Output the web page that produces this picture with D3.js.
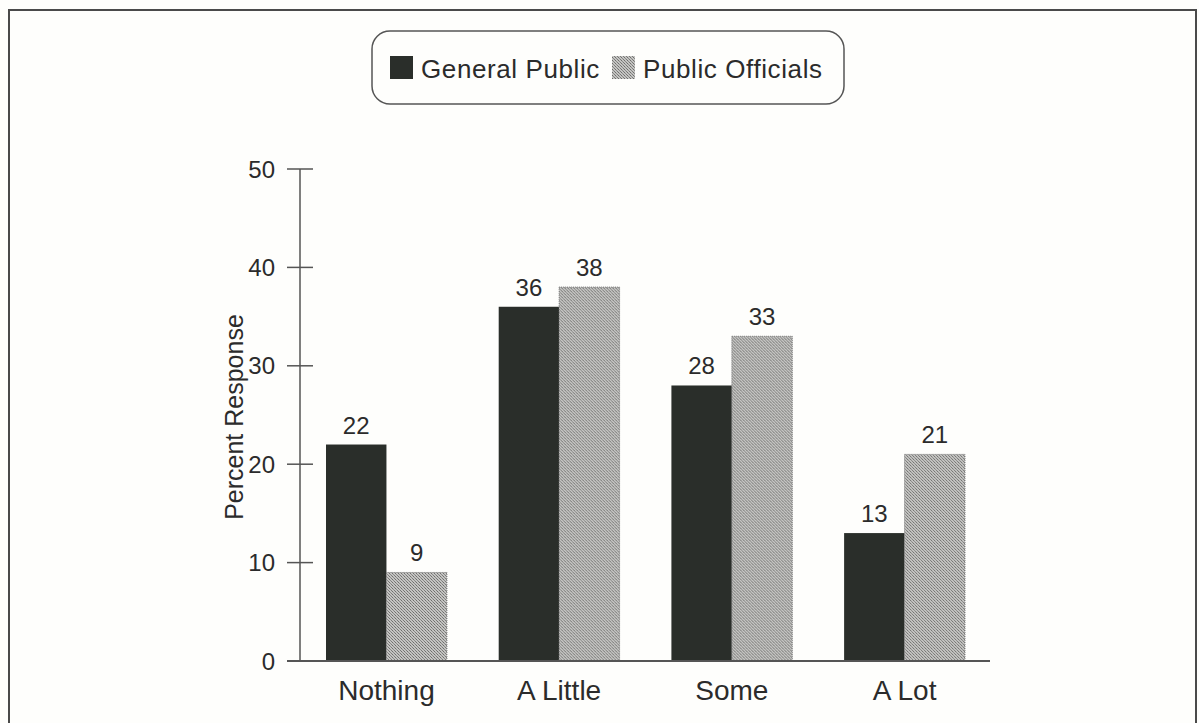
<!DOCTYPE html>
<html>
<head>
<meta charset="utf-8">
<script src="https://cdn.jsdelivr.net/npm/d3@7/dist/d3.min.js"></script>
<style>
  html, body { margin: 0; padding: 0; background: #fefefc; }
  svg { display: block; }
  text { font-family: "Liberation Sans", Arial, Helvetica, sans-serif; fill: #2b2b2b; }
</style>
</head>
<body>
<svg id="chart" width="1199" height="723"></svg>
<script>
// Survey responses, percent of each group
const categories = ["Nothing", "A Little", "Some", "A Lot"];
const seriesNames = ["General Public", "Public Officials"];
const generalPublic = [22, 36, 28, 13];
const publicOfficials = [9, 38, 33, 21];
const yTicks = [0, 10, 20, 30, 40, 50];
const yTitle = "Percent Response";

const svg = d3.select("#chart");
const W = 1199, H = 723;

// stippled fill for the second series
const defs = svg.append("defs");
const pat = defs.append("pattern")
  .attr("id", "stipple")
  .attr("patternUnits", "userSpaceOnUse")
  .attr("width", 3).attr("height", 3);
pat.append("rect").attr("width", 3).attr("height", 3).attr("fill", "#c4c4c2");
pat.append("rect").attr("x", 0).attr("y", 0).attr("width", 1).attr("height", 1).attr("fill", "#6e6e6c");
pat.append("rect").attr("x", 1).attr("y", 1).attr("width", 1).attr("height", 1).attr("fill", "#8a8a88");
pat.append("rect").attr("x", 2).attr("y", 2).attr("width", 1).attr("height", 1).attr("fill", "#7a7a78");

// page frame (open at the bottom)
svg.append("path")
  .attr("d", `M9,${H} L9,10 L1196,10 L1196,${H}`)
  .attr("fill", "none")
  .attr("stroke", "#4a4a4a")
  .attr("stroke-width", 2);

// scales
const y = d3.scaleLinear().domain([0, 50]).range([661, 169]);
const x = d3.scaleBand().domain(categories).range([326, 965]).paddingInner(0.3).paddingOuter(0);
const xs = d3.scaleBand().domain(seriesNames).range([0, x.bandwidth()]);

const colors = { "General Public": "#2a2e2a", "Public Officials": "url(#stipple)" };

// y axis
const gy = svg.append("g").attr("transform", "translate(300,0)");
gy.append("line").attr("x1", 0).attr("x2", 0).attr("y1", y(50)).attr("y2", y(0))
  .attr("stroke", "#555").attr("stroke-width", 1.5);
gy.selectAll(".tk").data(yTicks).enter().append("line")
  .attr("x1", -13).attr("x2", 13)
  .attr("y1", d => y(d)).attr("y2", d => y(d))
  .attr("stroke", "#555").attr("stroke-width", 1.5);
gy.selectAll(".tl").data(yTicks).enter().append("text")
  .attr("x", -25).attr("y", d => y(d)).attr("dy", "0.36em")
  .attr("text-anchor", "end")
  .style("font-size", "24px")
  .text(d => d);

// axis title
svg.append("text")
  .attr("transform", `translate(243,417) rotate(-90)`)
  .attr("text-anchor", "middle")
  .style("font-size", "25px")
  .text(yTitle);

// bars
const rows = categories.map((c, i) => ({ cat: c, vals: [
  { s: seriesNames[0], v: generalPublic[i] },
  { s: seriesNames[1], v: publicOfficials[i] }
]}));

const groups = svg.selectAll(".grp").data(rows).enter().append("g")
  .attr("transform", d => `translate(${x(d.cat)},0)`);

groups.selectAll("rect").data(d => d.vals).enter().append("rect")
  .attr("x", d => xs(d.s))
  .attr("y", d => y(d.v))
  .attr("width", xs.bandwidth())
  .attr("height", d => y(0) - y(d.v))
  .attr("fill", d => colors[d.s])
  .attr("stroke", d => d.s === seriesNames[1] ? "#777" : "none")
  .attr("stroke-width", 1)
  .attr("stroke-dasharray", d => d.s === seriesNames[1] ? "1,1" : null);

groups.selectAll(".val").data(d => d.vals).enter().append("text")
  .attr("x", d => xs(d.s) + xs.bandwidth() / 2)
  .attr("y", d => y(d.v) - 11)
  .attr("text-anchor", "middle")
  .style("font-size", "24px")
  .text(d => d.v);

// x baseline
svg.append("line").attr("x1", 287).attr("x2", 990).attr("y1", y(0)).attr("y2", y(0))
  .attr("stroke", "#555").attr("stroke-width", 2);

// category labels
const xAxis = d3.axisBottom(x).tickSize(0);
const gx = svg.append("g").attr("transform", `translate(0,${y(0)})`).call(xAxis);
gx.select(".domain").remove();
gx.selectAll("text")
  .attr("y", 39)
  .attr("dy", 0)
  .style("font-size", "28px")
  .style("font-family", "\"Liberation Sans\", Arial, sans-serif")
  .attr("fill", "#2b2b2b");

// legend
const lg = svg.append("g");
lg.append("rect")
  .attr("x", 372).attr("y", 31).attr("width", 472).attr("height", 73)
  .attr("rx", 18).attr("ry", 18)
  .attr("fill", "#fefefc").attr("stroke", "#555").attr("stroke-width", 1.5);
const legendX = [390, 612];
seriesNames.forEach((s, i) => {
  lg.append("rect")
    .attr("x", legendX[i]).attr("y", 56).attr("width", 23).attr("height", 23)
    .attr("fill", colors[s]);
  lg.append("text")
    .attr("x", legendX[i] + 31).attr("y", 78)
    .style("font-size", "26px")
    .style("letter-spacing", "0.6px")
    .text(s);
});
</script>
</body>
</html>
